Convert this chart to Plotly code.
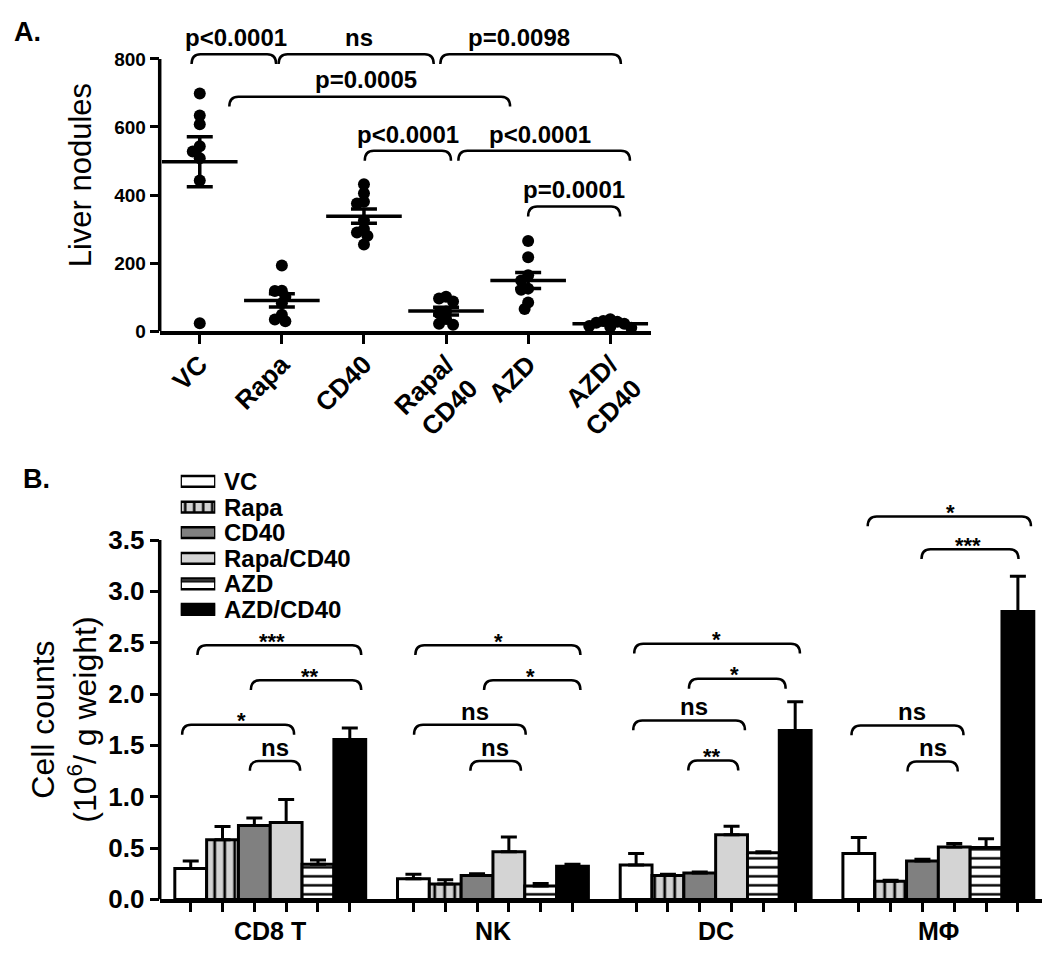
import numpy as np
import plotly.graph_objects as go

W, H = 1050, 962
FONT = "Liberation Sans, Arial, sans-serif"

# ---------------- Panel A data ----------------
groups_a = ["VC", "Rapa", "CD40", "Rapa/CD40", "AZD", "AZD/CD40"]
tick_labels_a = ["VC", "Rapa", "CD40", "Rapa/<br>CD40", "AZD", "AZD/<br>CD40"]
nod_vc = [698, 634, 608, 543, 528, 508, 443, 23]
nod_rapa = [193, 119, 118, 101, 82, 48, 34, 29]
nod_cd40 = [432, 405, 380, 375, 325, 300, 290, 280, 255]
nod_rapa_cd40 = [101, 96, 87, 58, 53, 36, 22, 19]
nod_azd = [265, 217, 164, 149, 125, 122, 84, 65]
nod_azd_cd40 = [35, 30, 28, 25, 22, 15, 12, 10]
nodules = [nod_vc, nod_rapa, nod_cd40, nod_rapa_cd40, nod_azd, nod_azd_cd40]
yticks_a = [0, 200, 400, 600, 800]

# comparison brackets panel A (x in group-index units, y in nodules)
comp_a_text = ["p<0.0001", "ns", "p=0.0098", "p=0.0005", "p<0.0001", "p<0.0001", "p=0.0001"]
comp_a_x0 = [-0.10, 0.96, 2.93, 0.36, 2.01, 3.15, 4.00]
comp_a_x1 = [0.93, 2.85, 5.13, 3.78, 3.06, 5.24, 5.12]
comp_a_y = [814, 814, 814, 689, 530, 530, 366]
comp_a_tx = [0.44, 1.94, 3.89, 2.02, 2.54, 4.15, 4.56]

# ---------------- Panel B data ----------------
cell_types = ["CD8 T", "NK", "DC", "MΦ"]
series_b = ["VC", "Rapa", "CD40", "Rapa/CD40", "AZD", "AZD/CD40"]
vc_mean = [0.30, 0.20, 0.335, 0.447]
vc_err = [0.075, 0.045, 0.112, 0.155]
rapa_mean = [0.58, 0.15, 0.233, 0.176]
rapa_err = [0.13, 0.042, 0.012, 0.010]
cd40_mean = [0.72, 0.233, 0.256, 0.375]
cd40_err = [0.073, 0.016, 0.010, 0.016]
rapa_cd40_mean = [0.75, 0.463, 0.63, 0.51]
rapa_cd40_err = [0.223, 0.144, 0.083, 0.034]
azd_mean = [0.342, 0.13, 0.455, 0.505]
azd_err = [0.041, 0.025, 0.008, 0.086]
azd_cd40_mean = [1.556, 0.322, 1.646, 2.803]
azd_cd40_err = [0.112, 0.020, 0.278, 0.345]
means_b = [vc_mean, rapa_mean, cd40_mean, rapa_cd40_mean, azd_mean, azd_cd40_mean]
errs_b = [vc_err, rapa_err, cd40_err, rapa_cd40_err, azd_err, azd_cd40_err]
yticks_b = [0, 0.5, 1.0, 1.5, 2.0, 2.5, 3.0, 3.5]

comp_b_text = ["***", "**", "*", "ns", "*", "*", "ns", "ns",
               "*", "*", "ns", "**", "*", "***", "ns", "ns"]
comp_b_x0 = [0.21, 1.89, -0.27, 1.86, 7.06, 9.22, 7.02, 8.79,
             13.94, 15.66, 13.91, 15.64, 21.28, 22.97, 20.77, 22.53]
comp_b_x1 = [5.36, 5.36, 3.25, 3.44, 12.25, 12.25, 10.53, 10.38,
             19.15, 18.70, 17.42, 17.21, 26.41, 26.02, 24.29, 24.11]
comp_b_y = [2.476, 2.134, 1.70, 1.348, 2.476, 2.134, 1.70, 1.348,
            2.49, 2.148, 1.742, 1.352, 3.73, 3.41, 1.694, 1.342]
comp_b_tx = [2.57, 3.74, 1.59, 2.64, 9.66, 10.68, 8.93, 9.56,
             16.53, 17.1, 15.83, 16.4, 23.87, 24.42, 22.68, 23.32]

# ---------------- layout geometry (pixels) ----------------
A_left, A_right, A_y0 = 151.7, 643.3, 328.3
A_xr = [-0.488, 5.50]
A_yr = [0, 890]
A_pu_y = 276.6 / 800.0          # px per nodule
A_top = A_y0 - A_yr[1] * A_pu_y
B_left, B_right, B_y0, B_top = 151.7, 1041.7, 905.5, 493.5
B_xr = [-0.975, 27.0]
B_yr = [0, 3.95]
GROUP_STEP = 7

ax_pu_x = (A_right - A_left) / (A_xr[1] - A_xr[0])
ax_pu_y = A_pu_y
bx_pu_x = (B_right - B_left) / (B_xr[1] - B_xr[0])
bx_pu_y = (B_y0 - B_top) / (B_yr[1] - B_yr[0])


def px(xp):
    return xp / W


def py(yp):
    return 1 - yp / H


def swarm(vals, pu_x, pu_y, mind=7.0, step=3.5):
    vals = np.asarray(vals, float)
    order = np.argsort(-vals, kind="stable")
    placed, res = [], np.zeros(len(vals))
    cands = [0.0]
    for m in range(1, 20):
        cands += [-m * step, m * step]
    for i in order:
        yv = vals[i] * pu_y
        for c in cands:
            if all((c - a) ** 2 + (yv - b) ** 2 >= mind ** 2 for a, b in placed):
                break
        placed.append((c, yv))
        res[i] = c / pu_x
    return res


fig = go.Figure()
BLACK = "black"

# ---------- Panel A traces ----------
for gi, pts in enumerate(nodules):
    pts = np.asarray(pts, float)
    offs = swarm(pts, ax_pu_x, ax_pu_y)
    fig.add_trace(go.Scatter(
        x=gi + offs, y=pts, mode="markers", xaxis="x", yaxis="y",
        marker=dict(size=12, color=BLACK), cliponaxis=False, hoverinfo="y"))
    mean = pts.mean()
    sem = pts.std(ddof=1) / np.sqrt(len(pts))
    fig.add_trace(go.Scatter(
        x=[gi], y=[mean], mode="markers", xaxis="x", yaxis="y", cliponaxis=False,
        marker=dict(symbol="line-ew", size=54, color=BLACK,
                    line=dict(color=BLACK, width=3.5)),
        error_y=dict(type="data", array=[sem], symmetric=True,
                     color=BLACK, thickness=3.5, width=13)))

# ---------- Panel B traces ----------
pat_shapes = ["", "|", "", "", "-", ""]
fill_cols = ["white", "#d2d2d2", "#808080", "#d4d4d4", "white", "black"]
for si, name in enumerate(series_b):
    xs = [g * GROUP_STEP + si for g in range(len(cell_types))]
    marker = dict(color=fill_cols[si], line=dict(color=BLACK, width=3))
    if pat_shapes[si]:
        marker["pattern"] = dict(shape=pat_shapes[si], fgcolor=BLACK,
                                 bgcolor=fill_cols[si], size=10 if si == 1 else 9,
                                 solidity=0.27, fillmode="replace")
    fig.add_trace(go.Bar(
        x=xs, y=means_b[si], width=1.0, name=name, xaxis="x2", yaxis="y2",
        marker=marker, cliponaxis=False,
        error_y=dict(type="data", array=errs_b[si], arrayminus=[0] * len(xs),
                     symmetric=False, color=BLACK, thickness=3, width=8)))
    # legend key
    lmarker = dict(color=fill_cols[si], line=dict(color=BLACK, width=2.5))
    if pat_shapes[si]:
        lmarker["pattern"] = dict(shape=pat_shapes[si], fgcolor=BLACK,
                                  bgcolor=fill_cols[si], size=9,
                                  solidity=0.27, fillmode="replace")
    fig.add_trace(go.Bar(
        x=[1], y=[si], base=[0], orientation="h", width=0.42,
        xaxis="x3", yaxis="y3", marker=lmarker, cliponaxis=False,
        hoverinfo="skip"))

shapes = []
annotations = []


def bracket(x0, x1, yt, drop, rx, xref, yref, lw=2.5):
    path = (f"M {x0},{yt - drop} Q {x0},{yt} {x0 + rx},{yt} "
            f"L {x1 - rx},{yt} Q {x1},{yt} {x1},{yt - drop}")
    return dict(type="path", path=path, xref=xref, yref=yref,
                line=dict(color=BLACK, width=lw))


# Panel A brackets
for t, x0, x1, yt, tx in zip(comp_a_text, comp_a_x0, comp_a_x1, comp_a_y, comp_a_tx):
    shapes.append(bracket(x0, x1, yt, 10 / ax_pu_y, 9 / ax_pu_x, "x", "y"))
    annotations.append(dict(x=tx, y=yt + 17 / ax_pu_y, xref="x", yref="y",
                            text=t, showarrow=False, xanchor="center", yanchor="middle",
                            font=dict(size=24, family=FONT, color=BLACK, weight="bold")))

# Panel B brackets
for t, x0, x1, yt, tx in zip(comp_b_text, comp_b_x0, comp_b_x1, comp_b_y, comp_b_tx):
    shapes.append(bracket(x0, x1, yt, 10 / bx_pu_y, 9 / bx_pu_x, "x2", "y2"))
    if t == "ns":
        fs, off = 24, 14
    else:
        fs, off = 22, 4
    annotations.append(dict(x=tx, y=yt + off / bx_pu_y, xref="x2", yref="y2",
                            text=t, showarrow=False, xanchor="center", yanchor="middle",
                            font=dict(size=fs, family=FONT, color=BLACK, weight="bold")))

# custom y axis lines (stop at top tick)
shapes.append(dict(type="line", xref="paper", yref="y", x0=px(A_left), x1=px(A_left),
                   y0=0, y1=yticks_a[-1], line=dict(color=BLACK, width=3.5)))
shapes.append(dict(type="line", xref="paper", yref="y2", x0=px(B_left), x1=px(B_left),
                   y0=0, y1=yticks_b[-1], line=dict(color=BLACK, width=3.5)))

# group labels panel B
for g, name in enumerate(cell_types):
    annotations.append(dict(x=g * GROUP_STEP + 2.5, y=py(938), xref="x2", yref="paper",
                            text=name, showarrow=False, xanchor="center", yanchor="middle",
                            font=dict(size=25, family=FONT, color=BLACK, weight="bold")))

# legend labels
for si, name in enumerate(series_b):
    annotations.append(dict(x=px(214), y=si, xref="paper", yref="y3", text=name,
                            showarrow=False, xanchor="left", yanchor="middle",
                            font=dict(size=24, family=FONT, color=BLACK, weight="bold")))

# axis titles and panel letters
annotations += [
    dict(x=px(72), y=py(170), xref="paper", yref="paper", text="Liver nodules",
         textangle=-90, showarrow=False, xanchor="center", yanchor="middle",
         font=dict(size=31, family=FONT, color=BLACK)),
    dict(x=px(56), y=py(723), xref="paper", yref="paper",
         text="Cell counts<br>(10<sup>6</sup>/ g weight)",
         textangle=-90, showarrow=False, xanchor="center", yanchor="middle",
         font=dict(size=32, family=FONT, color=BLACK)),
    dict(x=px(4), y=py(24), xref="paper", yref="paper", text="A.", showarrow=False,
         xanchor="left", yanchor="middle",
         font=dict(size=27, family=FONT, color=BLACK, weight="bold")),
    dict(x=px(13), y=py(478), xref="paper", yref="paper", text="B.", showarrow=False,
         xanchor="left", yanchor="middle",
         font=dict(size=27, family=FONT, color=BLACK, weight="bold")),
]

bar_ticks = [g * GROUP_STEP + s for g in range(len(cell_types)) for s in range(len(series_b))]

fig.update_layout(
    width=W, height=H, margin=dict(l=0, r=0, t=0, b=0),
    paper_bgcolor="white", plot_bgcolor="rgba(0,0,0,0)",
    showlegend=False, barmode="overlay",
    font=dict(family=FONT, color=BLACK),
    shapes=shapes, annotations=annotations,
    xaxis=dict(domain=[px(A_left), px(A_right)], range=A_xr, anchor="y",
               showgrid=False, zeroline=False, showline=True, linecolor=BLACK,
               linewidth=3.5, ticks="outside", ticklen=9, tickwidth=3,
               tickcolor=BLACK, tickvals=list(range(len(groups_a))),
               ticktext=tick_labels_a, tickangle=-45, ticklabelstandoff=-5,
               tickfont=dict(size=26, family=FONT, color=BLACK, weight="bold")),
    yaxis=dict(domain=[py(A_y0), py(A_top)], range=A_yr, anchor="x",
               showgrid=False, zeroline=False, showline=False,
               ticks="outside", ticklen=9, tickwidth=3, tickcolor=BLACK,
               tickvals=yticks_a,
               tickfont=dict(size=19, family=FONT, color=BLACK, weight="bold")),
    xaxis2=dict(domain=[px(B_left), px(B_right)], range=B_xr, anchor="y2",
                showgrid=False, zeroline=False, showline=True, linecolor=BLACK,
                linewidth=3.5, ticks="outside", ticklen=9, tickwidth=3,
                tickcolor=BLACK, tickvals=bar_ticks, showticklabels=False),
    yaxis2=dict(domain=[py(B_y0), py(B_top)], range=B_yr, anchor="x2",
                showgrid=False, zeroline=False, showline=False,
                ticks="outside", ticklen=9, tickwidth=3, tickcolor=BLACK,
                tickvals=yticks_b, tickformat=".1f",
                tickfont=dict(size=26, family=FONT, color=BLACK, weight="bold")),
    xaxis3=dict(domain=[px(172.7), px(207.3)], range=[0, 1], anchor="y3",
                visible=False, fixedrange=True),
    yaxis3=dict(domain=[py(624), py(468)], range=[5.5, -0.5], anchor="x3",
                visible=False, fixedrange=True),
)

fig.write_html("out.html")
